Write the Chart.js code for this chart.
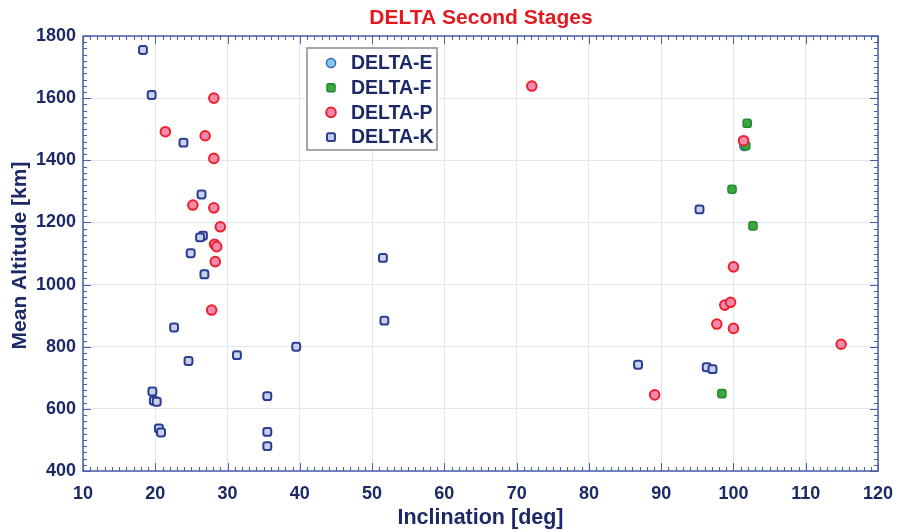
<!DOCTYPE html>
<html>
<head>
<meta charset="utf-8">
<title>DELTA Second Stages</title>
<script src="https://cdn.jsdelivr.net/npm/chart.js@4.4.1/dist/chart.umd.min.js"></script>
<style>
    html, body { margin: 0; padding: 0; background: #ffffff; }
    #wrap { width: 897px; height: 531px; position: relative; }
</style>
</head>
<body>
<div id="wrap"><canvas id="deltaChart"></canvas></div>
<script>
// Axis ticks
const xTicks = [10, 20, 30, 40, 50, 60, 70, 80, 90, 100, 110, 120];
const yTicks = [400, 600, 800, 1000, 1200, 1400, 1600, 1800];

// Series (inclination deg, mean altitude km)
const deltaEInc = [101.5];
const deltaEAlt = [1446];

const deltaFInc = [101.9, 101.7, 99.8, 102.7, 98.4];
const deltaFAlt = [1519, 1447, 1307, 1189, 649];

const deltaPInc = [28.1, 21.4, 26.9, 28.1, 25.2, 28.1, 29.0, 28.2, 28.5, 28.3, 27.8,
    101.4, 100.0, 98.8, 99.6, 97.7, 100.0, 114.9, 89.1, 72.1];
const deltaPAlt = [1600, 1492, 1479, 1406, 1256, 1247, 1186, 1130, 1122, 1074, 918,
    1463, 1057, 934, 943, 873, 859, 808, 645, 1639];

const deltaKInc = [18.3, 19.5, 23.9, 26.4, 26.6, 26.2, 24.9, 26.8, 22.6, 24.6, 31.3, 39.5,
    19.6, 19.8, 20.2, 35.5, 20.5, 20.8, 35.5, 35.5, 51.5, 51.7, 95.3, 86.8, 96.3, 97.1];
const deltaKAlt = [1755, 1610, 1457, 1290, 1157, 1152, 1101, 1033, 862, 754, 773, 800,
    656, 626, 623, 641, 537, 524, 526, 480, 1086, 884, 1242, 742, 734, 728];

const NAVY = '#1b2a66';
const FRAME = '#4a5ea8';
const FONT = '"Liberation Sans", Arial, sans-serif';

function toPoints(xs, ys) {
    return xs.map((x, i) => ({ x: x, y: ys[i] }));
}

// Frame, inward minor ticks, titles and the boxed legend
const framePlugin = {
    id: 'frame',
    afterDraw(chart) {
        const ctx = chart.ctx;
        const area = chart.chartArea;
        const xs = chart.scales.x;
        const ys = chart.scales.y;
        ctx.save();

        // inward ticks on all four sides
        ctx.strokeStyle = FRAME;
        ctx.lineWidth = 1;
        ctx.beginPath();
        for (let v = xs.min; v <= xs.max + 0.001; v += 1) {
            const px = Math.round(xs.getPixelForValue(v)) + 0.5;
            const len = (Math.round(v) % 10 === 0) ? 8 : 4;
            ctx.moveTo(px, area.bottom); ctx.lineTo(px, area.bottom - len);
            ctx.moveTo(px, area.top); ctx.lineTo(px, area.top + len);
        }
        for (let v = ys.min; v <= ys.max + 0.001; v += 20) {
            const py = Math.round(ys.getPixelForValue(v)) + 0.5;
            const len = (Math.round(v) % 200 === 0) ? 8 : 4;
            ctx.moveTo(area.left, py); ctx.lineTo(area.left + len, py);
            ctx.moveTo(area.right, py); ctx.lineTo(area.right - len, py);
        }
        ctx.stroke();

        ctx.lineWidth = 1.5;
        ctx.strokeRect(area.left, area.top, area.right - area.left, area.bottom - area.top);

        // chart title
        ctx.fillStyle = '#e3191f';
        ctx.font = 'bold 21px ' + FONT;
        ctx.textAlign = 'center';
        ctx.textBaseline = 'middle';
        ctx.fillText('DELTA Second Stages', 481, 18);

        // axis titles
        ctx.fillStyle = NAVY;
        ctx.font = 'bold 21.5px ' + FONT;
        ctx.fillText('Inclination [deg]', (area.left + area.right) / 2, 518);
        ctx.font = 'bold 21px ' + FONT;
        ctx.save();
        ctx.translate(20, (area.top + area.bottom) / 2 + 2);
        ctx.rotate(-Math.PI / 2);
        ctx.fillText('Mean Altitude [km]', 0, 0);
        ctx.restore();

        // legend box
        const bx = 307, by = 48, bw = 130, bh = 102;
        ctx.fillStyle = '#ffffff';
        ctx.fillRect(bx, by, bw, bh);
        ctx.strokeStyle = '#8a8a8a';
        ctx.lineWidth = 1.5;
        ctx.strokeRect(bx, by, bw, bh);
        ctx.font = 'bold 19.5px ' + FONT;
        ctx.textAlign = 'left';
        chart.data.datasets.forEach((ds, i) => {
            const cy = by + 15 + i * 24.7;
            const cx = 331;
            ctx.fillStyle = ds.backgroundColor;
            ctx.strokeStyle = ds.borderColor;
            ctx.lineWidth = ds.borderWidth;
            ctx.beginPath();
            if (ds.pointStyle === 'circle') {
                ctx.arc(cx, cy, ds.pointRadius, 0, Math.PI * 2);
            } else {
                const s = ds.pointRadius * 0.86;
                ctx.roundRect(cx - s, cy - s, 2 * s, 2 * s, 1.5);
            }
            ctx.fill();
            ctx.stroke();
            ctx.fillStyle = NAVY;
            ctx.fillText(ds.label, 351, cy + 1);
        });
        ctx.restore();
    }
};

const ctx = document.getElementById('deltaChart').getContext('2d');
new Chart(ctx, {
    type: 'scatter',
    data: {
        datasets: [
            {
                label: 'DELTA-E',
                data: toPoints(deltaEInc, deltaEAlt),
                pointStyle: 'circle',
                pointRadius: 4.6,
                backgroundColor: '#7fcdea',
                borderColor: '#3567c0',
                borderWidth: 1.5,
                order: 3
            },
            {
                label: 'DELTA-F',
                data: toPoints(deltaFInc, deltaFAlt),
                pointStyle: 'rectRounded',
                pointRadius: 4.7,
                backgroundColor: '#3ea63f',
                borderColor: '#1f8a33',
                borderWidth: 1.5,
                order: 2
            },
            {
                label: 'DELTA-P',
                data: toPoints(deltaPInc, deltaPAlt),
                pointStyle: 'circle',
                pointRadius: 4.8,
                backgroundColor: '#f28aab',
                borderColor: '#ee1f2d',
                borderWidth: 2,
                order: 1
            },
            {
                label: 'DELTA-K',
                data: toPoints(deltaKInc, deltaKAlt),
                pointStyle: 'rectRounded',
                pointRadius: 4.6,
                backgroundColor: '#c9d2ea',
                borderColor: '#2a3d92',
                borderWidth: 2,
                order: 0
            }
        ]
    },
    options: {
        responsive: true,
        maintainAspectRatio: false,
        animation: false,
        layout: {
            padding: { top: 36, right: 19, left: 0, bottom: 0 }
        },
        plugins: {
            legend: { display: false },
            title: { display: false },
            tooltip: { enabled: false }
        },
        scales: {
            x: {
                type: 'linear',
                min: 10,
                max: 120,
                afterBuildTicks: scale => { scale.ticks = xTicks.map(v => ({ value: v })); },
                afterFit: scale => {
                    scale.height = 60;
                    scale.paddingLeft = 0;
                    scale.paddingRight = 0;
                },
                border: { display: false },
                grid: { color: '#e1e6f1', lineWidth: 1, drawTicks: false },
                ticks: {
                    color: NAVY,
                    padding: 12,
                    maxRotation: 0,
                    callback: v => String(v),
                    font: { family: FONT, size: 18, weight: 'bold' }
                }
            },
            y: {
                type: 'linear',
                min: 400,
                max: 1800,
                afterBuildTicks: scale => { scale.ticks = yTicks.map(v => ({ value: v })); },
                afterFit: scale => {
                    scale.width = 83;
                    scale.paddingTop = 0;
                    scale.paddingBottom = 0;
                },
                border: { display: false },
                grid: { color: '#e1e6f1', lineWidth: 1, drawTicks: false },
                ticks: {
                    color: NAVY,
                    padding: 7,
                    callback: v => String(v),
                    font: { family: FONT, size: 18, weight: 'bold' }
                }
            }
        }
    },
    plugins: [framePlugin]
});
</script>
</body>
</html>
